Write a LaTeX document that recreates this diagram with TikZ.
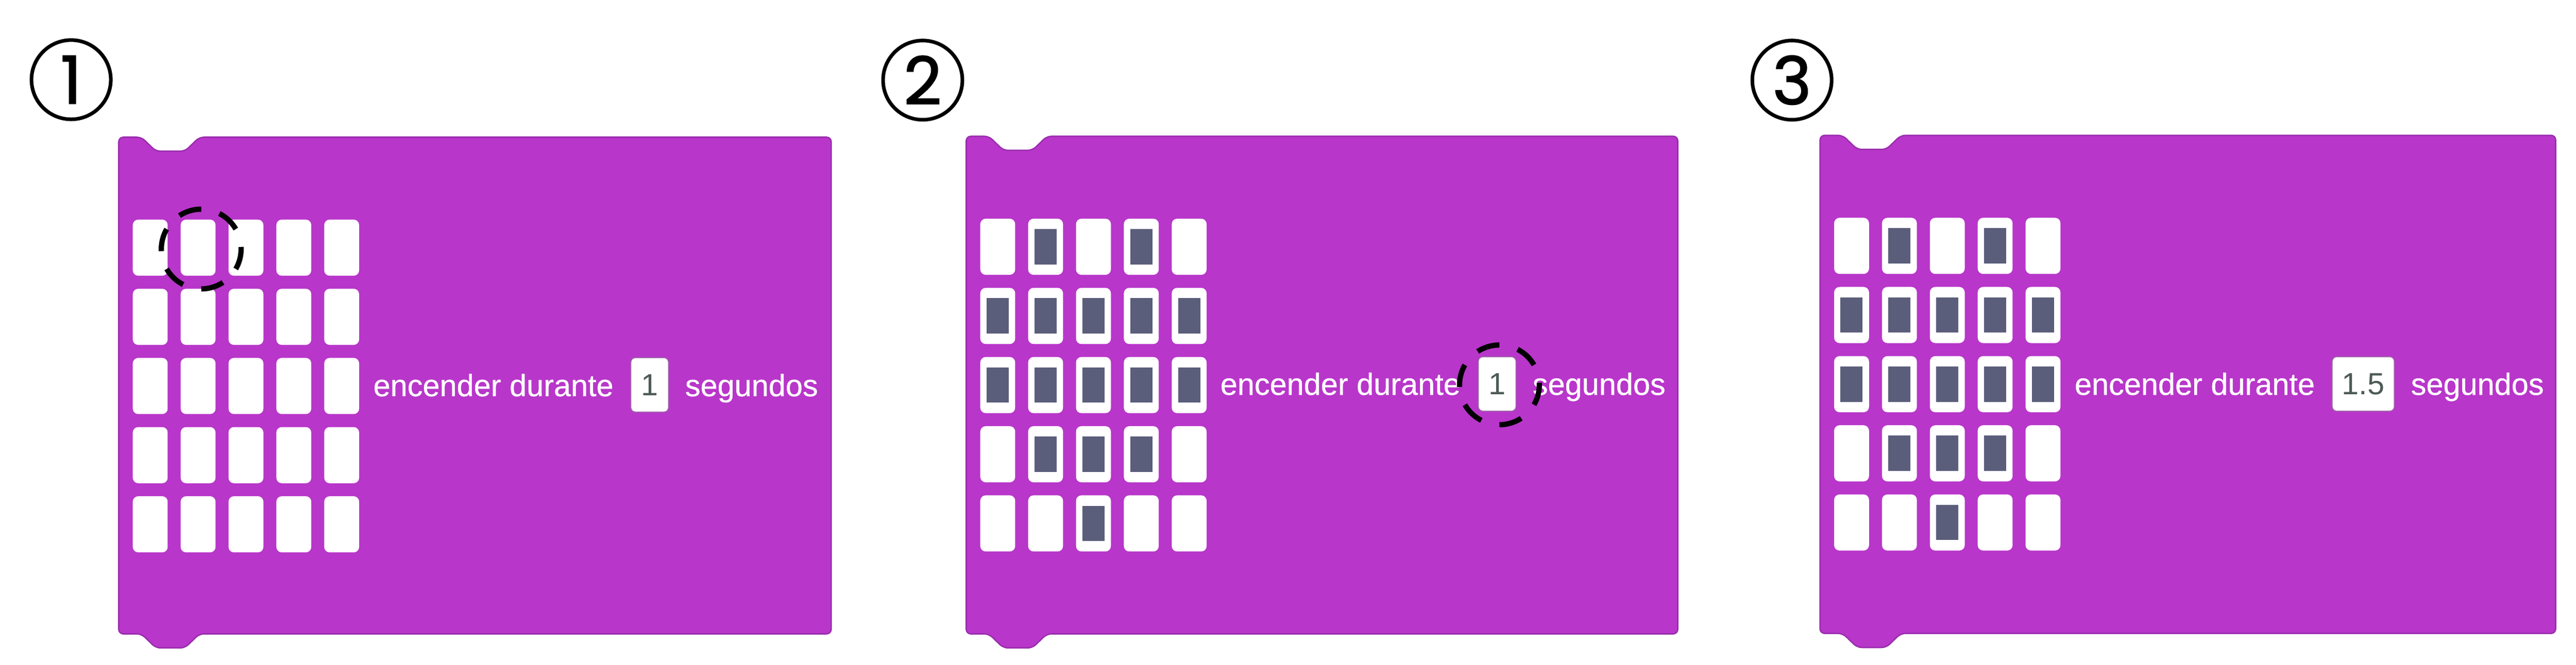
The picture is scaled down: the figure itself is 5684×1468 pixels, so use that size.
\documentclass[tikz,border=0pt]{standalone}
\usepackage{fontspec}
\setmainfont{Liberation Sans}
\newfontfamily\lblfont{Liberation Sans}[FakeBold=0.6]
\newfontfamily\numfont{Poppins}[FakeBold=1.6]
\definecolor{blockpurple}{HTML}{B836CA}
\definecolor{blockedge}{HTML}{9A2DAD}
\definecolor{ledon}{HTML}{5B5E7B}
\definecolor{numtext}{HTML}{4E5B55}
\definecolor{fieldedge}{HTML}{9C6AA6}
\newcommand{\mcblock}[4]{%
  \path[blockshape] (#1,#2+300) -- (#1,#2) -- (#1+50,#2) -- (#1+82,#2+31) -- (#1+146,#2+31) -- (#1+178,#2)
    -- (#3,#2) -- (#3,#4) -- (#1+178,#4) -- (#1+146,#4+31) -- (#1+82,#4+31) -- (#1+50,#4) -- (#1,#4) -- cycle;}
\newcommand{\mcleds}[2]{%
  \foreach \rr in {0,...,4} \foreach \cc in {0,...,4} {
    \fill[ledoff] (#1+31+105.6*\cc, #2+182+152.75*\rr) rectangle ++(77,124);
  }}
\newcommand{\mcheart}[2]{%
  \foreach \cc/\rr in {1/0,3/0,0/1,1/1,2/1,3/1,4/1,0/2,1/2,2/2,3/2,4/2,1/3,2/3,3/3,2/4} {
    \fill[ledlit] (#1+31+14+105.6*\cc, #2+182+23+152.75*\rr) rectangle ++(49,78);
  }}
\begin{document}
\begin{tikzpicture}[x=0.25pt,y=-0.25pt,
  blockshape/.style={fill=blockpurple, draw=blockedge, line width=0.75pt, rounded corners=2.5pt},
  ledoff/.style={fill=white, rounded corners=3pt},
  ledlit/.style={fill=ledon},
  lbl/.style={text=white, font=\lblfont\fontsize{16.9pt}{18pt}\selectfont, inner sep=0pt, anchor=base west},
  field/.style={fill=white, draw=fieldedge, line width=0.5pt, rounded corners=2.5pt, inner sep=0pt,
    minimum height=30pt, text=numtext, font=\fontsize{16.9pt}{18pt}\selectfont},
  stepnum/.style={circle, draw=black, line width=2pt, minimum size=43.75pt, inner sep=0pt,
    font=\numfont\fontsize{36.5pt}{36.5pt}\selectfont},
  hl/.style={draw=black, line width=2.9pt, dash pattern=on 12.67pt off 10.37pt}
]
\useasboundingbox (0,0) rectangle (5684,1468);

% step numbers
\node[stepnum] (s1) at (157,176) {1};
\node[stepnum] (s2) at (2036,177) {2};
\node[stepnum] (s3) at (3954,177) {3};

% blocks
\mcblock{262}{303}{1834}{1400}
\mcblock{2132}{301}{3702}{1400}
\mcblock{4016}{299}{5639}{1399}

% LED grids
\mcleds{262}{303}
\mcleds{2132}{301}
\mcleds{4016}{299}
\mcheart{2132}{301}
\mcheart{4016}{299}

% panel 1 texts
\node[lbl] (enc1) at (823,875) {encender durante};
\node[field, minimum width=20.75pt] (val1) at (1433.5,850) {1};
\node[lbl, xshift=8.75pt] (seg1) at (val1.east |- enc1.base) {segundos};

% panel 2 texts
\node[lbl] (enc2) at (2692,872) {encender durante};
\node[field, minimum width=20.75pt] (val2) at (3303.5,848) {1};
\node[lbl, xshift=8.75pt] (seg2) at (val2.east |- enc2.base) {segundos};

% panel 3 texts
\node[lbl] (enc3) at (4577,872) {encender durante};
\node[field, minimum width=34.25pt] (val3) at (5214.5,848) {1.5};
\node[lbl, xshift=8.75pt] (seg3) at (val3.east |- enc3.base) {segundos};

% dashed highlight circles
\coordinate (hl1) at (444,550);
\coordinate (hl2) at (3308.5,850);
\draw[hl] ([shift={(30:22pt)}]hl1) arc[start angle=30, delta angle=360, radius=22pt];
\draw[hl] ([shift={(30:22pt)}]hl2) arc[start angle=30, delta angle=360, radius=22pt];
\end{tikzpicture}
\end{document}
